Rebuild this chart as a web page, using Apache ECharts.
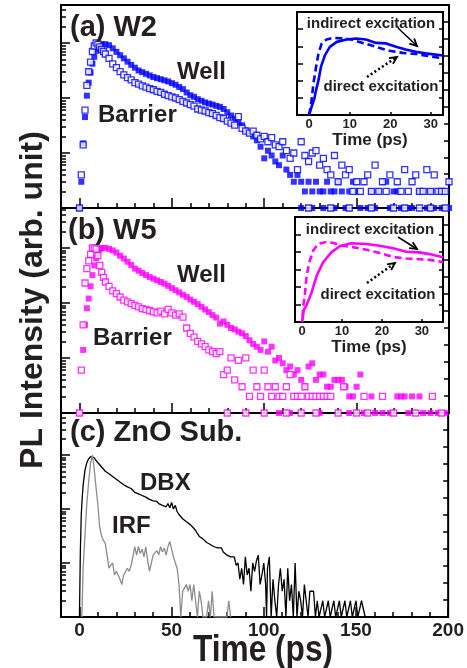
<!DOCTYPE html>
<html>
<head>
<meta charset="utf-8">
<title>PL decay</title>
<script src="https://cdn.jsdelivr.net/npm/echarts@6/dist/echarts.min.js"></script>
<style>
  html, body { margin: 0; padding: 0; background: #fff; }
  #chart { width: 467px; height: 668px; }
</style>
</head>
<body>
<div id="chart"></div>
<script>
// ---- data: [time (ps), counts] ----
var w2Well = [[0,1],[1,3],[2,15],[3,45],[4,110],[5,190],[6,290],[7,420],[8,560],[9,720],[10,850],[12,950],[14,950],[16,910],[18,800],
  [20,690],[22,600],[24,525],[26,457],[28,400],[30,355],[32,316],[34,295],[36,275],[38,257],[40,240],[42,229],[44,219],[46,209],
  [48,200],[50,186],[52,174],[54,158],[56,145],[58,126],[60,112],[62,105],[64,95],[66,89],[68,83],[70,79],[72,76],[74,72],[76,69],
  [78,63],[80,55],[82,48],[84,42],[86,36],[88,32],[90,26],[92,23],[94,20],[96,17],[98,13],[100,8],[102,11],[104,9],[106,7],[108,6],
  [110,9],[112,5],[114,4],[116,3],[118,4],[120,3],[122,2],[124,3],[126,2],[128,3],[130,2],[132,2],[134,3],[136,2],[138,2],[140,3],
  [142,2],[146,2],[148,3],[150,2],[158,2],[162,2],[166,3],[170,2],[172,2],[184,2],[186,2],[190,2],[194,2],[198,2],
  [120,1],[126,1],[132,1],[138,1],[144,1],[152,1],[156,1],[160,1],[168,1],[174,1],[178,1],[180,1],[188,1],[192,1],[196,1],[200,1]];
var w2Barrier = [[0,1],[1,4],[2,14],[3,60],[4,170],[5,300],[6,450],[7,700],[8,880],[9,1000],[10,950],[11,850],[12,760],[13,700],
  [14,630],[16,525],[18,417],[20,355],[22,302],[24,263],[26,234],[28,214],[30,190],[32,178],[34,166],[36,158],[38,148],[40,141],
  [42,132],[44,126],[46,117],[48,110],[50,105],[52,100],[54,93],[56,87],[58,81],[60,76],[62,71],[64,63],[66,60],[68,58],[70,54],
  [72,52],[74,48],[76,44],[78,42],[80,38],[82,35],[84,32],[86,46],[88,28],[90,25],[92,23],[94,25],[96,21],[98,18],[100,20],[102,16],
  [104,19],[106,14],[108,13],[110,16],[112,11],[114,8],[116,10],[118,5],[120,16],[122,9],[124,7],[126,10],[128,11],[130,6],[132,8],
  [134,5],[136,4],[138,9],[140,3],[142,6],[144,4],[146,5],[148,2],[150,3],[152,2],[154,3],[156,4],[158,2],[160,6],[162,2],[164,3],
  [166,2],[168,4],[172,3],[174,2],[176,5],[178,2],[180,3],[182,4],[184,2],[186,2],[188,5],[190,2],[192,4],[194,2],[196,2],[198,2],
  [200,3],[124,1],[136,1],[146,1],[158,1],[170,1],[176,1],[184,1],[190,1],[198,1]];
var w5Well = [[0,1],[2,14],[3,40],[4,80],[5,120],[6,200],[7,320],[8,480],[9,650],[10,820],[11,950],[12,1000],[14,1000],[16,960],
  [18,900],[20,820],[22,720],[24,640],[26,560],[28,490],[30,420],[32,385],[34,350],[36,320],[38,295],[40,275],[42,257],[44,240],
  [46,224],[48,204],[50,186],[52,170],[54,155],[56,141],[58,129],[60,115],[62,105],[64,95],[66,85],[68,76],[70,68],[72,60],[74,54],
  [76,42],[78,46],[80,40],[82,35],[84,33],[86,30],[88,28],[90,25],[92,21],[94,18],[96,16],[98,14],[100,20],[102,13],[104,16],[106,9],
  [108,10],[110,8],[112,6],[114,7],[116,5],[118,6],[120,4],[122,3],[124,7],[126,8],[128,4],[130,5],[132,5],[134,3],[136,3],[138,4],
  [140,4],[142,4],[144,3],[146,2],[148,2],[150,3],[152,5],[158,2],[172,2],[174,2],[176,2],[180,2],[184,2],
  [108,1],[114,1],[130,1],[146,1],[154,1],[160,1],[164,1],[168,1],[178,1],[186,1],[190,1],[194,1],[198,1]];
var w5Barrier = [[0,1],[1,6],[2,40],[3,230],[4,420],[5,580],[6,760],[7,1000],[8,1000],[9,950],[10,720],[11,480],[12,360],[13,290],
  [14,240],[16,200],[18,166],[20,148],[22,128],[24,112],[26,104],[28,97],[30,90],[32,85],[34,79],[36,76],[38,72],[40,69],[42,66],
  [44,71],[46,63],[48,76],[50,66],[52,60],[54,63],[56,55],[58,35],[60,28],[62,24],[64,20],[66,18],[68,16],[70,14],[72,13],[74,12],
  [76,13],[78,5],[80,6],[82,10],[84,4],[86,9],[88,3],[90,10],[92,2],[94,6],[96,3],[98,2],[100,6],[102,3],[104,2],[106,3],[108,2],
  [110,2],[112,3],[114,5],[116,2],[118,2],[120,2],[122,3],[124,2],[126,2],[128,2],[130,2],[132,2],[134,2],[136,2],[143,3],[154,2],
  [164,2],[191,2],[80,1],[90,1],[100,1],[112,1],[120,1],[128,1],[140,1],[150,1],[156,1],[170,1],[182,1],[196,1]];
var dbx = [[0,1],[0.5,17],[1,80],[1.5,160],[2,280],[3,525],[4,720],[5,850],[6,930],[7,1000],[8,890],[9,790],[10,720],[11,660],
  [12,600],[13,550],[14,500],[15,480],[16,450],[17,425],[18,400],[19,380],[20,355],[21,330],[22,316],[23,295],[24,282],[25,275],
  [26,257],[27,251],[28,240],[29,229],[30,204],[31,219],[32,190],[33,200],[34,178],[35,186],[36,166],[37,158],[38,151],[39,155],
  [40,141],[41,135],[42,138],[43,126],[44,129],[45,117],[46,123],[47,110],[48,126],[49,105],[50,132],[51,100],[52,117],[53,89],
  [54,79],[55,76],[56,66],[57,63],[58,58],[59,60],[60,52],[61,50],[62,44],[63,40],[64,35],[65,31],[66,32],[67,28],[68,26],[69,24],
  [70,25],[71,22],[72,23],[73,20],[74,21],[75,19],[76,18],[77,19],[78,16],[79,17],[80,14],[81,15],[82,13],[83,14],[84,13],[85,9],
  [86,10],[87,5],[88,8],[89,4],[90,13],[91,6],[92,8],[93,3],[94,10],[95,7],[96,11],[97,14],[98,4],[99,6],[100,10],[101,4],[101.5,1],
  [102,8],[103,13],[104,1],[105,5],[106,2],[107,1],[108,4],[109,8],[110,3],[111,5],[112,1],[113,8],[114,2],[115,4],[116,1],[117,10],
  [118,1],[119,3],[120,2],[121,1],[122,4],[123,2],[124,1],[125,3],[126,3],[127,3],[128,1],[129,2],[130,1],[132,2],[133,1],[135,2],
  [136,1],[138,2],[139,1],[141,2],[142,1],[144,2],[145,1],[147,2],[148,1],[150,2],[151,1],[153,2],[154,2],[155,1]];
var irf = [[1.3,1],[2,8],[3,32],[4,126],[5,316],[6,700],[7,1000],[8,560],[9,250],[10,120],[11,45],[12,32],[13,26],[14,23],[15,14],
  [16,8],[17,9],[18,10],[19,6],[20,7],[21,6],[22,5],[23,4],[24,6],[25,6],[26,8],[27,7],[28,9],[29,13],[30,20],[31,14],[32,20],
  [33,15],[34,18],[35,13],[36,20],[37,11],[38,7],[39,10],[40,14],[41,13],[42,17],[43,14],[44,20],[45,16],[46,19],[47,14],[48,20],
  [49,25],[50,18],[51,13],[52,10],[53,8],[54,4],[55,1],[56,3],[57,3],[58,4],[59,3],[60,4],[61,2],[62,4],[63,4],[64,1],[65,3],[66,2],
  [67,1],[69,1],[70,2],[71,1],[72,3],[73,1],[80,1],[81,2],[82,1]];
// insets: [time (ps), intensity (arb.)]
var w2Indirect = [[0,0],[0.6,0.48],[1.3,0.97],[1.7,1.45],[2.3,2.03],[2.9,2.8],[3.9,3.49],[5.1,3.97],[6.8,4.26],[9.2,4.4],[11.6,4.46],
  [14,4.4],[16.5,4.2],[19,4.17],[21.4,3.97],[23.8,3.82],[26.3,3.68],[28.7,3.59],[33,3.47]];
var w2Direct = [[0,0],[0.6,0.87],[1.05,1.84],[1.7,2.8],[2.3,3.59],[3.1,4.17],[4.3,4.4],[5.9,4.49],[8.4,4.46],[10.4,4.4],[13.2,4.2],
  [16.5,3.97],[19.8,3.74],[23,3.62],[26.3,3.55],[29.5,3.43],[33,3.3]];
var w5Indirect = [[0,0],[0.4,0.68],[1.1,0.97],[2.3,1.65],[3.6,2.62],[5.2,3.4],[7.3,3.98],[9.4,4.33],[12.3,4.5],[16.1,4.46],[19.4,4.36],
  [22.8,4.21],[26.1,4.01],[29.4,3.98],[31.9,3.88],[35.3,3.7]];
var w5Direct = [[0.1,0.3],[0.25,0.87],[0.7,1.65],[1.1,2.62],[1.75,3.4],[2.75,4.07],[4,4.46],[5.7,4.56],[7.75,4.52],[10.25,4.36],
  [12.75,4.27],[16.1,4.13],[19.4,3.94],[22.75,3.72],[26.1,3.63],[29.4,3.59],[31.9,3.55],[35.3,3.43]];

var timeMinor = [0,10,20,30,40,50,60,70,80,90,100,110,120,130,140,150,160,170,180,190,200];
var timeMajor = [0,50,100,150,200];
var decades = [1,10,100,1000];
var logMinor = [2,3,4,5,6,7,8,9,20,30,40,50,60,70,80,90,200,300,400,500,600,700,800,900,2000,3000,4000,5000];
var insetTicks = [0,10,20,30];

var BLUE = '#0000ff', PINK = '#ff00ff', INK = '#231f20';
var FONT = '"Liberation Sans", Arial, sans-serif';

var chart = echarts.init(document.getElementById('chart'));

// panels: top, height, max of log axis
var panels = [
  { top: 5, height: 203, max: 4900 },
  { top: 208, height: 205, max: 5300 },
  { top: 413, height: 204, max: 6000 }
];
var grids = [], xAxes = [], yAxes = [];
var tickLine = { color: '#000', width: 1.5 };
var noLine = { show: false, onZero: false };

function ticks(len, values) {
  var t = { show: true, inside: true, length: len, lineStyle: tickLine };
  if (values) t.customValues = values;
  return t;
}

panels.forEach(function (p, i) {
  grids.push({ left: 61, top: p.top, width: 388, height: p.height, show: true,
    borderColor: '#000', borderWidth: 2, backgroundColor: 'transparent' });
  var last = i === 2;
  xAxes.push({ gridIndex: i, type: 'value', position: 'bottom', min: -10, max: 200,
    axisLine: noLine, splitLine: { show: false }, axisTick: ticks(5, timeMinor),
    axisLabel: { show: false } });
  xAxes.push({ gridIndex: i, type: 'value', position: 'bottom', min: -10, max: 200,
    axisLine: noLine, splitLine: { show: false }, axisTick: ticks(10, timeMajor),
    axisLabel: { show: last, customValues: timeMajor, fontSize: 19, fontWeight: 'bold',
      fontFamily: FONT, color: INK, margin: 4 } });
  yAxes.push({ gridIndex: i, type: 'log', logBase: 10, position: 'left', min: 1, max: p.max,
    axisLine: noLine, splitLine: { show: false }, axisTick: ticks(9, decades),
    axisLabel: { show: false } });
  yAxes.push({ gridIndex: i, type: 'log', logBase: 10, position: 'left', min: 1, max: p.max,
    axisLine: noLine, splitLine: { show: false }, axisTick: ticks(5, logMinor),
    axisLabel: { show: false } });
  yAxes.push({ gridIndex: i, type: 'value', position: 'right', min: 0, max: 12, interval: 1,
    axisLine: noLine, splitLine: { show: false }, axisTick: ticks(5),
    axisLabel: { show: false } });
});

// insets
var insets = [
  { left: 297, top: 12, width: 146, height: 103, min: -3, max: 33 },
  { left: 295, top: 217, width: 148, height: 105, min: -1.8, max: 35.3 }
];
insets.forEach(function (s, k) {
  var g = 3 + k;
  grids.push({ left: s.left, top: s.top, width: s.width, height: s.height, show: true,
    borderColor: '#000', borderWidth: 2, backgroundColor: '#fff', z: 5 });
  xAxes.push({ gridIndex: g, type: 'value', position: 'bottom', min: s.min, max: s.max, z: 6,
    axisLine: noLine, splitLine: { show: false }, axisTick: ticks(3, insetTicks),
    axisLabel: { show: true, customValues: insetTicks, fontSize: 13, fontWeight: 'bold', fontFamily: FONT,
      color: INK, margin: 3 },
    name: 'Time (ps)', nameLocation: 'middle', nameGap: 17,
    nameTextStyle: { fontSize: 17, fontWeight: 'bold', fontFamily: FONT, color: INK } });
  yAxes.push({ gridIndex: g, type: 'value', position: 'left', min: 0, max: 6, interval: 1, z: 6,
    axisLine: noLine, splitLine: { show: false }, axisTick: ticks(6), axisLabel: { show: false } });
  yAxes.push({ gridIndex: g, type: 'value', position: 'right', min: 0, max: 6, interval: 1, z: 6,
    axisLine: noLine, splitLine: { show: false }, axisTick: ticks(4), axisLabel: { show: false } });
});

function filled(data, color, xi, yi) {
  return { type: 'scatter', data: data, xAxisIndex: xi, yAxisIndex: yi, symbol: 'rect', symbolSize: 6,
    clip: false, itemStyle: { color: color } };
}
function hollow(data, color, xi, yi) {
  return { type: 'scatter', data: data, xAxisIndex: xi, yAxisIndex: yi, symbol: 'rect', symbolSize: 6,
    clip: false, itemStyle: { color: '#fff', borderColor: color, borderWidth: 1.3 } };
}
function curve(data, color, xi, yi, width, dash, z) {
  return { type: 'line', data: data, xAxisIndex: xi, yAxisIndex: yi, showSymbol: false, symbol: 'none',
    z: z || 2, lineStyle: { color: color, width: width, type: dash || 'solid' } };
}

var series = [
  filled(w2Well, BLUE, 0, 0),
  hollow(w2Barrier, BLUE, 0, 0),
  filled(w5Well, PINK, 2, 3),
  hollow(w5Barrier, PINK, 2, 3),
  curve(dbx, '#000', 4, 6, 1.3),
  curve(irf, '#8c8c8c', 4, 6, 1.3),
  curve(w2Indirect, BLUE, 6, 9, 2.6, 'solid', 7),
  curve(w2Direct, BLUE, 6, 9, 2.6, [7, 4], 7),
  curve(w5Indirect, PINK, 7, 11, 2.6, 'solid', 7),
  curve(w5Direct, PINK, 7, 11, 2.6, [7, 4], 7)
];

function label(text, x, y, size, opts) {
  opts = opts || {};
  return { type: 'text', x: x, y: y, z: 20, rotation: opts.rotation || 0,
    scaleX: opts.scaleX || 1,
    style: { text: text, fill: INK, font: 'bold ' + size + 'px ' + FONT,
      textAlign: opts.align || 'left', textVerticalAlign: 'middle' } };
}
function arrow(x1, y1, x2, y2, dotted) {
  var a = Math.atan2(y2 - y1, x2 - x1), h = 8, w = 0.45;
  var p1 = [x2 - h * Math.cos(a - w), y2 - h * Math.sin(a - w)];
  var p2 = [x2 - h * Math.cos(a + w), y2 - h * Math.sin(a + w)];
  return [
    { type: 'line', z: 20, shape: { x1: x1, y1: y1, x2: x2, y2: y2 },
      style: { stroke: '#000', lineWidth: dotted ? 2.5 : 1.5, lineDash: dotted ? [2, 2.5] : null } },
    { type: 'polyline', z: 20, shape: { points: [p1, [x2, y2], p2] },
      style: { stroke: '#000', lineWidth: 1.8, fill: null } }
  ];
}

var graphics = [
  label('(a) W2', 70, 28, 29),
  label('Well', 177, 72, 24),
  label('Barrier', 98, 115, 24),
  label('(b) W5', 68, 231, 29),
  label('Well', 177, 275, 24),
  label('Barrier', 93, 338, 24),
  label('(c) ZnO Sub.', 70, 433, 29),
  label('DBX', 140, 483, 24),
  label('IRF', 112, 526, 24),
  label('indirect excitation', 371, 24, 15, { align: 'center' }),
  label('direct excitation', 381, 87, 15, { align: 'center' }),
  label('indirect excitation', 370, 230, 15, { align: 'center' }),
  label('direct excitation', 378, 295, 15, { align: 'center' }),
  label('PL Intensity (arb. unit)', 33, 300, 32, { align: 'center', rotation: Math.PI / 2 }),
  label('Time (ps)', 263, 651, 36, { align: 'center', scaleX: 0.88 })
].concat(arrow(398, 28, 417, 46, false), arrow(367, 77, 397, 57, true),
         arrow(398, 237, 417, 249, false), arrow(367, 283, 395, 263, true));

chart.setOption({
  animation: false,
  backgroundColor: '#fff',
  grid: grids,
  xAxis: xAxes,
  yAxis: yAxes,
  series: series,
  graphic: graphics
});
</script>
</body>
</html>
